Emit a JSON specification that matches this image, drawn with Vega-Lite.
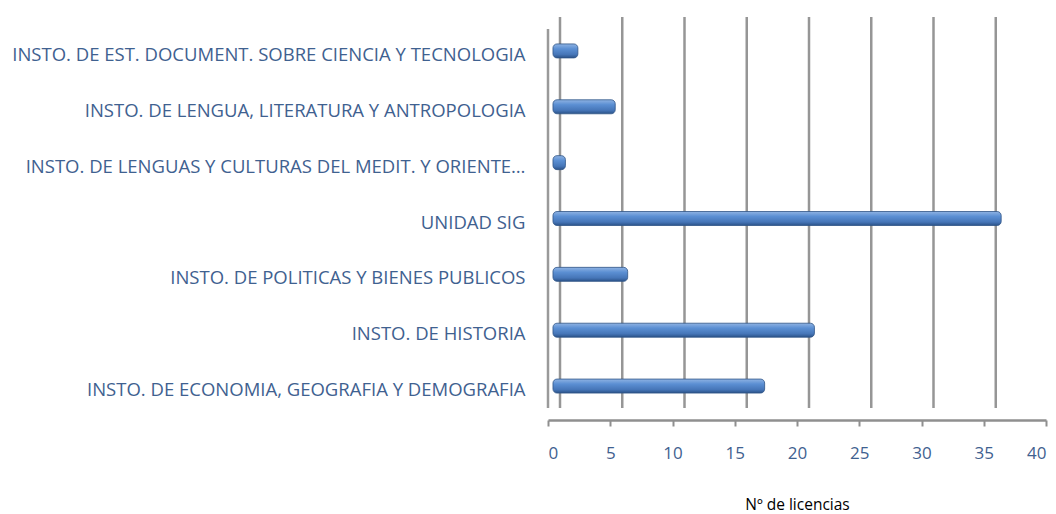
{
  "$schema": "https://vega.github.io/schema/vega-lite/v6.json",
  "width": 498,
  "height": 391,
  "autosize": {"type": "none"},
  "padding": {"left": 548, "top": 17, "right": 10, "bottom": 106},
  "background": "white",
  "config": {"view": {"stroke": null}, "font": "Open Sans"},
  "datasets": {
    "licencias": [
      {"instituto": "INSTO. DE EST. DOCUMENT. SOBRE CIENCIA Y TECNOLOGIA", "licencias": 2},
      {"instituto": "INSTO. DE LENGUA, LITERATURA Y ANTROPOLOGIA", "licencias": 5},
      {"instituto": "INSTO. DE LENGUAS Y CULTURAS DEL MEDIT. Y ORIENTE…", "licencias": 1},
      {"instituto": "UNIDAD SIG", "licencias": 36},
      {"instituto": "INSTO. DE POLITICAS Y BIENES PUBLICOS", "licencias": 6},
      {"instituto": "INSTO. DE HISTORIA", "licencias": 21},
      {"instituto": "INSTO. DE ECONOMIA, GEOGRAFIA Y DEMOGRAFIA", "licencias": 17}
    ],
    "grid": [{"v": 0}, {"v": 5}, {"v": 10}, {"v": 15}, {"v": 20}, {"v": 25}, {"v": 30}, {"v": 35}, {"v": 40}]
  },
  "resolve": {"scale": {"x": "independent"}, "axis": {"x": "independent"}},
  "layer": [
    {
      "data": {"name": "grid"},
      "mark": {"type": "rule", "color": "#969696", "strokeWidth": 2.5, "xOffset": 12},
      "encoding": {
        "x": {
          "field": "v", "type": "quantitative",
          "scale": {"domain": [0, 40], "nice": false},
          "axis": {
            "offset": 12,
            "grid": false,
            "values": [0, 5, 10, 15, 20, 25, 30, 35, 40],
            "domainColor": "#8f8f8f", "domainWidth": 2.5,
            "tickColor": "#8f8f8f", "tickSize": 6, "tickWidth": 2,
            "labelColor": "#3f6190", "labelFontSize": 17, "labelPadding": 19,
            "title": "Nº de licencias", "titleColor": "#000000",
            "titleFontWeight": "normal", "titleFontSize": 15.5, "titlePadding": 36
          }
        }
      }
    },
    {
      "data": {"name": "grid"},
      "transform": [{"filter": "datum.v == 0"}],
      "mark": {"type": "rule", "color": "#9a9a9a", "strokeWidth": 2.5, "yOffset": 12},
      "encoding": {"x": {"field": "v", "type": "quantitative", "scale": {"domain": [0, 40], "nice": false}, "axis": null}}
    },
    {
      "data": {"name": "licencias"},
      "mark": {
        "type": "bar", "height": 14, "yOffset": 6, "cornerRadius": 4,
        "fill": {
          "gradient": "linear", "x1": 0, "y1": 0, "x2": 0, "y2": 1,
          "stops": [
            {"offset": 0, "color": "#8fb3e3"},
            {"offset": 0.35, "color": "#5b8fd3"},
            {"offset": 0.75, "color": "#4676b8"},
            {"offset": 1, "color": "#2b5288"}
          ]
        },
        "stroke": "#2f5486", "strokeWidth": 0.8
      },
      "encoding": {
        "x": {"field": "licencias", "type": "quantitative", "scale": {"domain": [-0.4, 39.6], "nice": false, "zero": false}, "axis": null},
        "x2": {"datum": 0},
        "y": {
          "field": "instituto", "type": "nominal", "sort": null,
          "scale": {"paddingInner": 0, "paddingOuter": 0},
          "axis": {
            "title": null, "domain": false, "ticks": false,
            "labelPadding": 23, "labelOffset": 10, "labelFontSize": 18.5,
            "labelColor": "#3f6190", "labelLimit": 0
          }
        }
      }
    }
  ]
}
